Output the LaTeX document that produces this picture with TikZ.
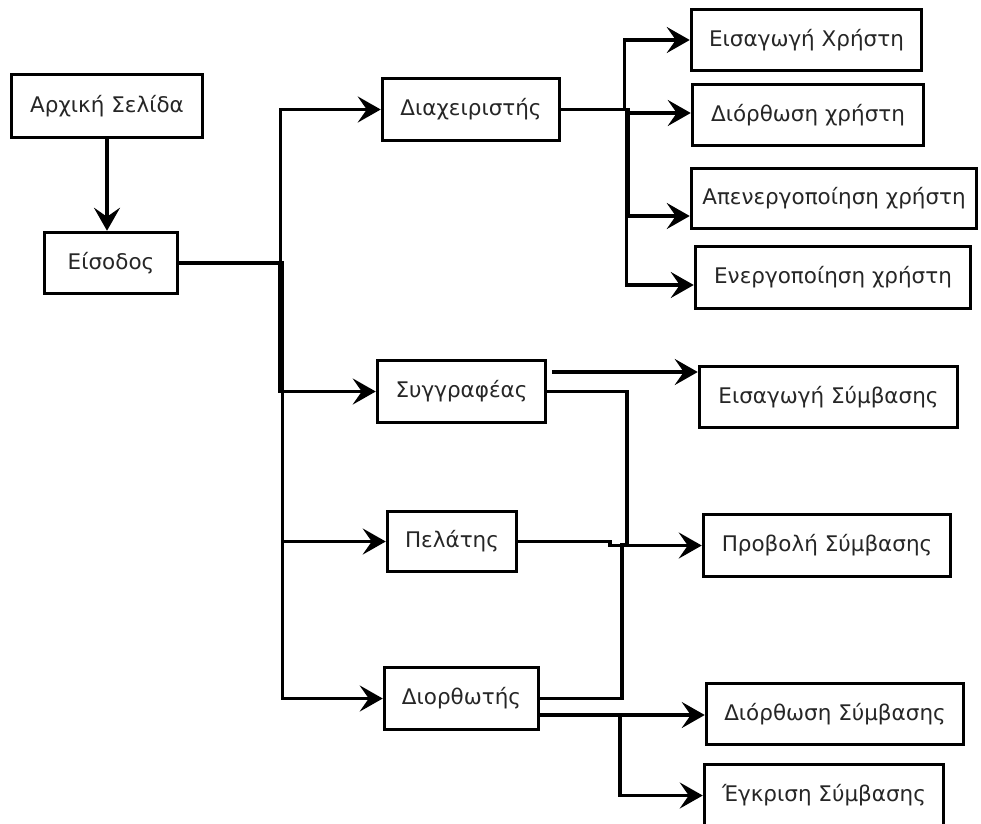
\documentclass[tikz,border=0pt]{standalone}
\usepackage{fontspec}
\setmainfont{DejaVu Sans}
\usetikzlibrary{arrows.meta}
\begin{document}
\begin{tikzpicture}[x=1pt,y=-1pt,
  box/.style={draw=black,line width=3.5pt,inner sep=0pt,font=\fontsize{21.5}{25}\selectfont,text=black!85},
  link/.style={line width=3.5pt,black},
  arr/.style={link,-{Stealth[length=23pt,width=26pt,inset=9pt]}}]
\useasboundingbox (0,0) rectangle (981,823);
\fill[white] (0,0) rectangle (981,823);
\clip (0,0) rectangle (981,823);

% nodes
\node[box,minimum width=191pt,minimum height=63pt] (home) at (107,106) {Αρχική Σελίδα};
\node[box,minimum width=133pt,minimum height=61pt] (login) at (111,263) {Είσοδος};
\node[box,minimum width=177pt,minimum height=62pt] (admin) at (471,109.5) {Διαχειριστής};
\node[box,minimum width=230pt,minimum height=61pt] (u1) at (806.5,40) {Εισαγωγή Χρήστη};
\node[box,minimum width=231pt,minimum height=61pt] (u2) at (808,115) {Διόρθωση χρήστη};
\node[box,minimum width=285pt,minimum height=60pt] (u3) at (834,198.5) {Απενεργοποίηση χρήστη};
\node[box,minimum width=275pt,minimum height=62pt] (u4) at (833,277.5) {Ενεργοποίηση χρήστη};
\node[box,minimum width=168pt,minimum height=62pt] (author) at (461.5,391.5) {Συγγραφέας};
\node[box,minimum width=258pt,minimum height=61pt] (c1) at (828.5,397) {Εισαγωγή Σύμβασης};
\node[box,minimum width=129pt,minimum height=60pt] (client) at (452,541.5) {Πελάτης};
\node[box,minimum width=247pt,minimum height=62pt] (c2) at (827,545.5) {Προβολή Σύμβασης};
\node[box,minimum width=154pt,minimum height=62pt] (corr) at (461.5,698.5) {Διορθωτής};
\node[box,minimum width=257pt,minimum height=61pt] (c3) at (835,714) {Διόρθωση Σύμβασης};
\node[box,minimum width=239pt,minimum height=62pt] (c4) at (824,795.5) {Έγκριση Σύμβασης};

% helper coordinates
\coordinate (y113) at (0,113);
\coordinate (y216) at (0,216);
\coordinate (y285) at (0,285);
\coordinate (y372) at (0,372);
\coordinate (y715) at (0,715);
\coordinate (a1s) at (552,372);

% connectors
\draw[arr] (home.south) -- (home.south |- login.north);

\draw[arr] (login.east) -- (280.5,263) |- (admin.west);
\draw[arr] (login.east) -- (279.5,263) |- (author.west);
\draw[arr] (login.east) -- (282.5,263) |- (client.west);
\draw[arr] (login.east) -- (282.5,263) |- (corr.west);

\draw[arr] (admin.east) -- (624.5,109.5) |- (u1.west);
\draw[arr] (admin.east) -- (627,109.5) |- (u2.west |- y113);
\draw[arr] (admin.east) -- (628,109.5) |- (u3.west |- y216);
\draw[arr] (admin.east) -- (626.5,109.5) |- (u4.west |- y285);

\draw[arr] (a1s) -- (c1.west |- y372);
\draw[link] (author.east) -- (627,391.5) -- (627,545) -- (622,545) -- (622,698.5) -- (corr.east);

\draw[arr] (client.east) -- (610,541.5) -- (610,545.5) -- (c2.west);

\draw[arr] (corr.east |- y715) -- (c3.west |- y715);
\draw[arr] (corr.east |- y715) -- (620,715) |- (c4.west);
\end{tikzpicture}
\end{document}
